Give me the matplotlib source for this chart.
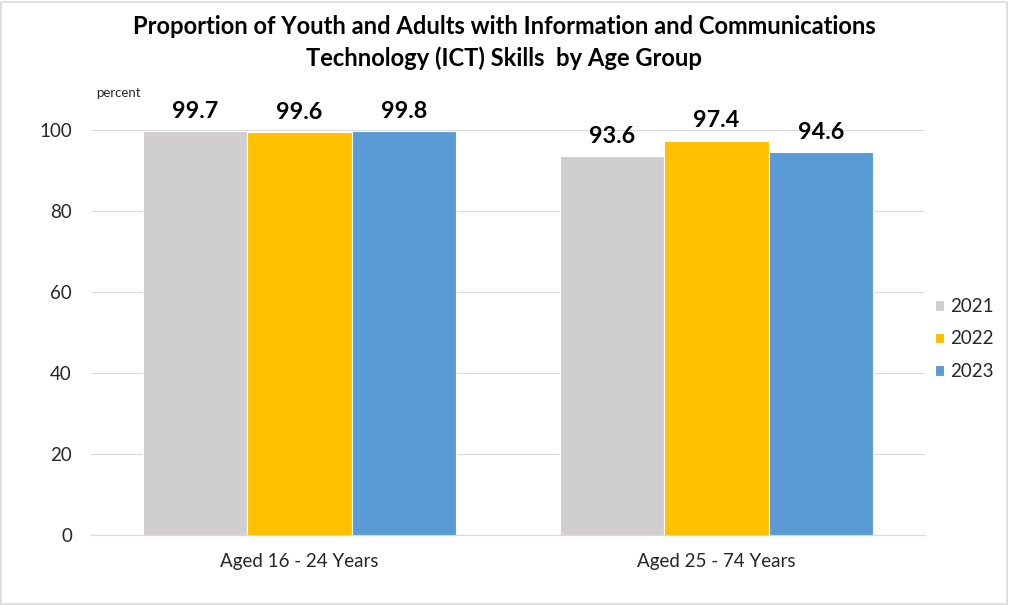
import matplotlib
matplotlib.use("Agg")
import matplotlib.pyplot as plt
import numpy as np
from matplotlib.patches import Rectangle

categories = ["Aged 16 - 24 Years", "Aged 25 - 74 Years"]
years = ["2021", "2022", "2023"]
values = {
    "2021": [99.7, 93.6],
    "2022": [99.6, 97.4],
    "2023": [99.8, 94.6],
}
colors = {"2021": "#D0CECE", "2022": "#FFC000", "2023": "#5B9BD5"}
yticks = [0, 20, 40, 60, 80, 100]

plt.rcParams['font.family'] = ['Lato', 'DejaVu Sans']

W, H = 1009, 605
fig = plt.figure(figsize=(W / 100, H / 100), dpi=100)
fig.patch.set_facecolor("white")
fig.add_artist(Rectangle((0.001, 0.002), 0.997, 0.995, transform=fig.transFigure,
                         fill=False, edgecolor="#D9D9D9", linewidth=1.2))

left, right = 91 / W, 925 / W
bottom, top = 1 - 535 / H, 1 - 130 / H
ax = fig.add_axes([left, bottom, right - left, top - bottom])

x = np.arange(len(categories))
bw = 0.25
for i, yr in enumerate(years):
    pos = x + (i - 1) * bw
    bars = ax.bar(pos, values[yr], width=bw, color=colors[yr], edgecolor="white",
                  linewidth=0.8, label=yr, zorder=3)
    for b, v in zip(bars, values[yr]):
        ax.annotate(f"{v:.1f}", (b.get_x() + b.get_width() / 2, v),
                    xytext=(0, 9.4), textcoords="offset points", ha="center",
                    va="baseline", fontsize=16.8, fontweight="bold", color="black",
                    annotation_clip=False)

ax.set_xlim(-0.5, 1.5)
ax.set_ylim(0, 100)
ax.set_yticks(yticks)
ax.set_yticklabels([str(t) for t in yticks], fontsize=13.5, color="#262626")
ax.set_xticks(x)
ax.set_xticklabels(categories, fontsize=13.5, color="#262626")
ax.tick_params(axis="both", length=0)
ax.tick_params(axis="y", pad=13.7)
ax.tick_params(axis="x", pad=13)
ax.grid(axis="y", color="#D9D9D9", linewidth=0.8, zorder=0)
for s in ["top", "right", "left"]:
    ax.spines[s].set_visible(False)
ax.spines["bottom"].set_color("#D9D9D9")
ax.spines["bottom"].set_linewidth(0.9)

fig.text(96 / W, 1 - 93 / H, "percent", fontsize=9.5, color="#262626", va="center", ha="left")

fig.text(504 / W, 1 - 34 / H, "Proportion of Youth and Adults with Information and Communications",
         ha="center", va="baseline", fontsize=17.1, fontweight="bold")
fig.text(504 / W, 1 - 66 / H, "Technology (ICT) Skills  by Age Group",
         ha="center", va="baseline", fontsize=17.1, fontweight="bold")

leg = ax.legend(loc="center left", bbox_to_anchor=(935 / W, 1 - 339 / H),
                bbox_transform=fig.transFigure, frameon=False, fontsize=13.5,
                borderpad=0, borderaxespad=0,
                handlelength=0.5, handleheight=0.5, handletextpad=0.3, labelspacing=0.82)
for t in leg.get_texts():
    t.set_color("#262626")

fig.savefig("out.png", dpi=100)
